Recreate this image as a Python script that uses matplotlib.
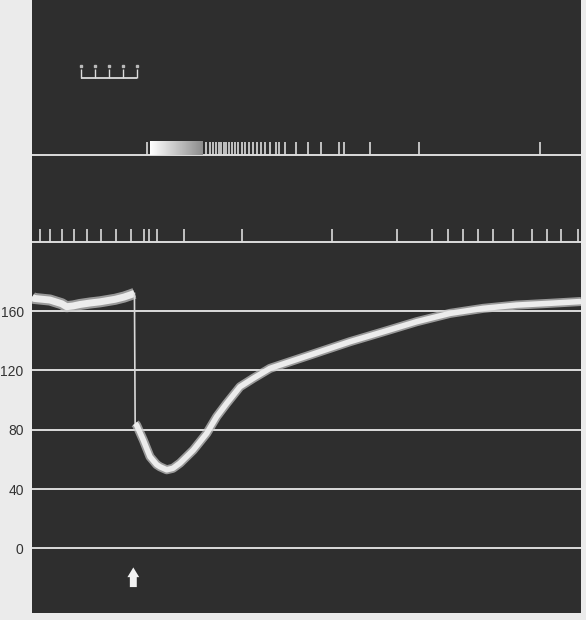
import numpy as np
import matplotlib
matplotlib.use("Agg")
import matplotlib.pyplot as plt

plt.rcParams["font.family"] = ["Liberation Sans", "DejaVu Sans"]

# pressure before the stimulus (time in s, pressure in mmHg)
pre_t = [0.0, 0.14, 1.27, 2.10, 2.45, 2.90, 3.39, 4.10, 4.81, 5.87, 6.50, 6.93, 7.24]
pre_p = [169.5, 168.6, 167.5, 165.0, 163.0, 163.5, 164.5, 165.5, 166.3, 168.0, 169.5, 170.9, 172.0]

# pressure after the fall
post_t = [7.29, 7.40, 7.87, 8.34, 8.81, 9.05, 9.52, 9.96, 10.46, 11.40, 12.35,
          13.05, 13.76, 14.70, 15.64, 16.82, 18.23, 19.65, 21.06, 22.47, 24.83,
          27.19, 29.54, 31.89, 34.25, 36.61, 38.8]
post_p = [84.3, 83.0, 73.0, 61.8, 56.5, 55.0, 53.0, 54.0, 57.5, 66.3, 77.6,
          88.8, 97.8, 109.0, 114.7, 121.4, 125.9, 130.4, 134.9, 139.4, 146.1,
          152.9, 158.5, 161.9, 164.1, 165.3, 166.5]

# upper unit discharge (spike times, s) and dense burst
spikes_a = [8.11, 12.30, 12.58, 12.81, 13.00, 13.19, 13.36, 13.55, 13.73, 13.92,
            14.11, 14.35, 14.58, 14.82, 15.05, 15.31, 15.60, 15.88, 16.18, 16.47,
            16.82, 17.24, 17.46, 17.90, 18.66, 19.48, 20.40, 21.70, 22.05, 23.89,
            27.33, 35.90]
burst_a = (8.34, 12.08)
base_a = 265.3

# lower unit discharge
spikes_b = [0.57, 1.27, 2.10, 2.99, 3.91, 4.86, 5.94, 6.98, 7.92, 8.29, 8.81,
            10.74, 14.84, 21.18, 25.82, 28.25, 29.38, 30.48, 31.49, 32.59,
            33.97, 35.36, 36.37, 37.39, 38.61]
base_b = 206.6

# time marker (1 s ticks)
cal_t = [3.44, 4.45, 5.44, 6.42, 7.44]
cal_y = 317.0

grid_levels = [0, 40, 80, 120, 160]
stim_t = 7.16

fig = plt.figure(figsize=(5.86, 6.2), dpi=100)
fig.patch.set_facecolor("#ebebeb")
ax = fig.add_axes([0.0546, 0.0118, 0.9369, 0.9882])
ax.set_facecolor("#2e2e2e")
ax.set_xlim(0, 38.8)
ax.set_ylim(-43.4, 369.9)

line_col = "#dcdcdc"
for g in grid_levels:
    ax.axhline(g, color=line_col, lw=1.4, zorder=2)

# pressure band
ax.plot(pre_t, pre_p, color="#c8c8c8", lw=8, alpha=0.7, solid_capstyle="butt", zorder=3)
ax.plot(pre_t, pre_p, color="#ececec", lw=5, solid_capstyle="butt", zorder=4)
ax.plot([pre_t[-1], post_t[0]], [pre_p[-1], post_p[0]], color="#d8d8d8", lw=1.2, zorder=4)
ax.plot(post_t, post_p, color="#c8c8c8", lw=6.5, alpha=0.7, solid_capstyle="butt",
        solid_joinstyle="round", zorder=3)
ax.plot(post_t, post_p, color="#ececec", lw=4, solid_capstyle="butt",
        solid_joinstyle="round", zorder=4)

# unit A
spike_h = 9.0
ax.axhline(base_a, color=line_col, lw=1.4, zorder=2)
ax.vlines(spikes_a, base_a, base_a + spike_h, color=line_col, lw=1.2, zorder=3)
grad = np.linspace(1.0, 0.55, 100).reshape(1, -1)
ax.imshow(grad, extent=[burst_a[0], burst_a[1], base_a, base_a + spike_h],
          cmap="gray", vmin=0, vmax=1, aspect="auto", zorder=3)

# unit B
ax.axhline(base_b, color=line_col, lw=1.4, zorder=2)
ax.vlines(spikes_b, base_b, base_b + spike_h, color=line_col, lw=1.2, zorder=3)

# time calibration
ax.hlines(cal_y, cal_t[0], cal_t[-1], color=line_col, lw=1.3)
ax.vlines(cal_t, cal_y, cal_y + 6.5, color=line_col, lw=1.0)
ax.plot(cal_t, [cal_y + 8.5] * len(cal_t), "s", color="#bbbbbb", ms=1.5)

# stimulus arrow
ax.annotate("", xy=(stim_t, -11.0), xytext=(stim_t, -28.0),
            arrowprops=dict(arrowstyle="simple,head_width=0.85,head_length=0.7,tail_width=0.5",
                            color="#f2f2f2", lw=0))

ax.set_yticks(grid_levels)
ax.set_yticklabels([str(g) for g in grid_levels])
ax.tick_params(axis="y", length=0, pad=6, labelsize=10, labelcolor="#333333")
ax.set_xticks([])
for s in ax.spines.values():
    s.set_visible(False)

fig.savefig("out.png", dpi=100, facecolor=fig.get_facecolor())
